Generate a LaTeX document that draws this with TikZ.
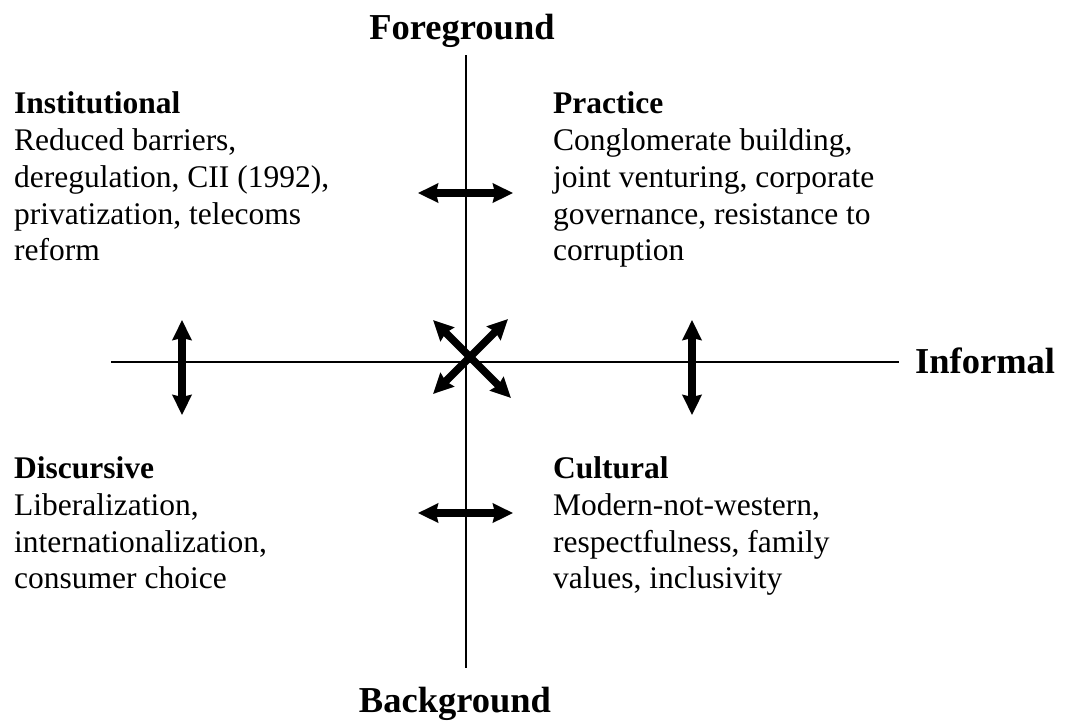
\documentclass[tikz,border=0pt]{standalone}
\usepackage{fontspec}
\setmainfont{Liberation Serif}
\usetikzlibrary{arrows.meta}
\tikzset{
  axis/.style={line width=1.7pt},
  dbl/.style={line width=7.5pt, {Stealth[length=20pt,width=19pt,inset=2pt]}-{Stealth[length=20pt,width=19pt,inset=2pt]}},
  head/.style={anchor=base west, inner sep=0pt, font=\fontsize{31.5}{36}\selectfont\bfseries},
  body/.style={anchor=base west, inner sep=0pt, font=\fontsize{31.5}{36}\selectfont},
  axlab/.style={anchor=base, inner sep=0pt, font=\fontsize{36.5}{42}\selectfont\bfseries}
}
\begin{document}
\begin{tikzpicture}[x=1pt,y=-1pt]
\useasboundingbox (0,0) rectangle (1065,724);
% axes
\coordinate (vt) at (466,55);
\coordinate (vb) at (466,668);
\coordinate (hl) at (111,362);
\coordinate (hr) at (899,362);
\draw[axis] (vt) -- (vb);
\draw[axis] (hl) -- (hr);
% axis labels
\node[axlab] (fg) at (462,39) {Foreground};
\node[axlab] (bg) at (455,712) {Background};
\node[anchor=base west, inner sep=0pt, font=\fontsize{36.5}{42}\selectfont\bfseries] (inf) at (915,373) {Informal};
% double arrows
\coordinate (t1) at (418,193); \coordinate (t2) at (513,193);
\coordinate (b1) at (418,513); \coordinate (b2) at (513,513);
\coordinate (l1) at (182,320); \coordinate (l2) at (182,415);
\coordinate (r1) at (692,320); \coordinate (r2) at (692,415);
\coordinate (x1) at (433,320); \coordinate (x2) at (511,398);
\coordinate (x3) at (508,319); \coordinate (x4) at (433,394);
\draw[dbl] (t1) -- (t2);
\draw[dbl] (b1) -- (b2);
\draw[dbl] (l1) -- (l2);
\draw[dbl] (r1) -- (r2);
\draw[dbl] (x1) -- (x2);
\draw[dbl] (x3) -- (x4);
% Institutional
\node[head] (i0) at (14,113) {Institutional};
\node[body] (i1) at (14,150) {Reduced barriers,};
\node[body] (i2) at (14,187) {deregulation, CII (1992),};
\node[body] (i3) at (14,224) {privatization, telecoms};
\node[body] (i4) at (14,260) {reform};
% Practice
\node[head] (p0) at (553,113) {Practice};
\node[body] (p1) at (553,150) {Conglomerate building,};
\node[body] (p2) at (553,187) {joint venturing, corporate};
\node[body] (p3) at (553,224) {governance, resistance to};
\node[body] (p4) at (553,260) {corruption};
% Discursive
\node[head] (d0) at (14,478) {Discursive};
\node[body] (d1) at (14,515) {Liberalization,};
\node[body] (d2) at (14,552) {internationalization,};
\node[body] (d3) at (14,588) {consumer choice};
% Cultural
\node[head] (c0) at (553,478) {Cultural};
\node[body] (c1) at (553,515) {Modern-not-western,};
\node[body] (c2) at (553,552) {respectfulness, family};
\node[body] (c3) at (553,588) {values, inclusivity};
\end{tikzpicture}
\end{document}
